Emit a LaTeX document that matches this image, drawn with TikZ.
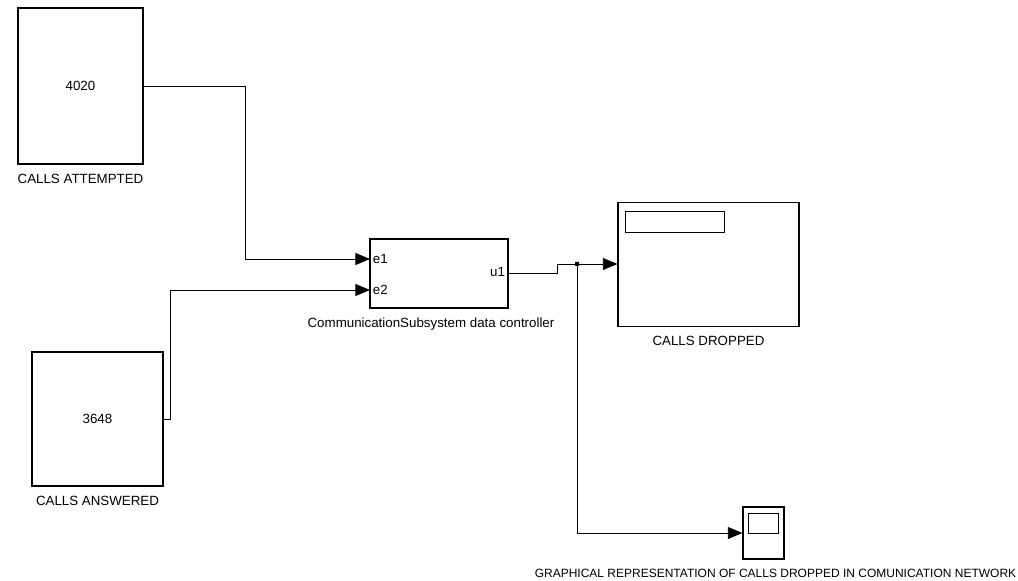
\documentclass[tikz,border=0pt]{standalone}
\usepackage{fontspec}
\setmainfont{Liberation Sans}
\usetikzlibrary{positioning, arrows.meta}
\tikzset{
  blk/.style={draw, line width=0.8pt, inner sep=0pt, font=\fontsize{10}{12}\selectfont},
  lbl/.style={inner sep=1pt, font=\fontsize{10}{12}\selectfont},
  prt/.style={inner sep=2pt, font=\fontsize{10}{12}\selectfont},
  wire/.style={line width=0.7pt},
  sig/.style={wire, -{Triangle[length=11pt, width=9pt]}},
}
\begin{document}
\begin{tikzpicture}[x=0.75pt, y=-0.75pt, node distance=6pt]
  \useasboundingbox (0,0) rectangle (1018,581);
  % displays
  \node[blk, minimum width={125*0.75pt}, minimum height={156*0.75pt}] (att) at (80.5,86) {4020};
  \node[lbl, below=of att] (attl) {CALLS ATTEMPTED};
  \node[blk, minimum width={131*0.75pt}, minimum height={134*0.75pt}] (ans) at (97.5,419) {3648};
  \node[lbl, below=of ans] (ansl) {CALLS ANSWERED};
  % subsystem
  \node[blk, minimum width={138*0.75pt}, minimum height={69*0.75pt}] (sub) at (439,273.5) {};
  \node[lbl, below=of sub, xshift=-6pt] (subl) {CommunicationSubsystem data controller};
  \node[prt, anchor=west] (e1) at (370,259) {e1};
  \node[prt, anchor=west] (e2) at (370,290) {e2};
  \node[prt, anchor=east] (u1) at (508,272) {u1};
  \coordinate (in1) at (370,259);
  \coordinate (in2) at (370,290);
  % scopes
  \node[blk, minimum width={181*0.75pt}, minimum height={124*0.75pt}] (scp) at (708.5,264.5) {};
  \node[blk, minimum width={99*0.75pt}, minimum height={21*0.75pt}, anchor=north west] (scpw) at (625,211) {};
  \node[lbl, below=of scp] (scpl) {CALLS DROPPED};
  \node[blk, minimum width={41*0.75pt}, minimum height={52*0.75pt}] (grf) at (763.5,533) {};
  \node[blk, minimum width={30*0.75pt}, minimum height={20*0.75pt}, anchor=north west] (grfw) at (748,513) {};
  \node[lbl, below=of grf, font=\fontsize{9}{11}\selectfont, xshift=9pt] (grfl) {GRAPHICAL REPRESENTATION OF CALLS DROPPED IN COMUNICATION NETWORK};
  % signals
  \coordinate (jn) at (577,264);
  \draw[sig] (att.east) -- ++(102,0) |- (in1);
  \draw[sig] (ans.east) -- ++(7,0) |- (in2);
  \draw[wire] (sub.east) -- ++(49,0) |- (jn);
  \draw[sig] (jn) -- (scp.west |- jn);
  \draw[sig] (jn) |- (grf.west);
  \fill (jn) rectangle ++(2,2) (jn) rectangle ++(-2,-2) (jn) rectangle ++(2,-2) (jn) rectangle ++(-2,2);
\end{tikzpicture}
\end{document}
